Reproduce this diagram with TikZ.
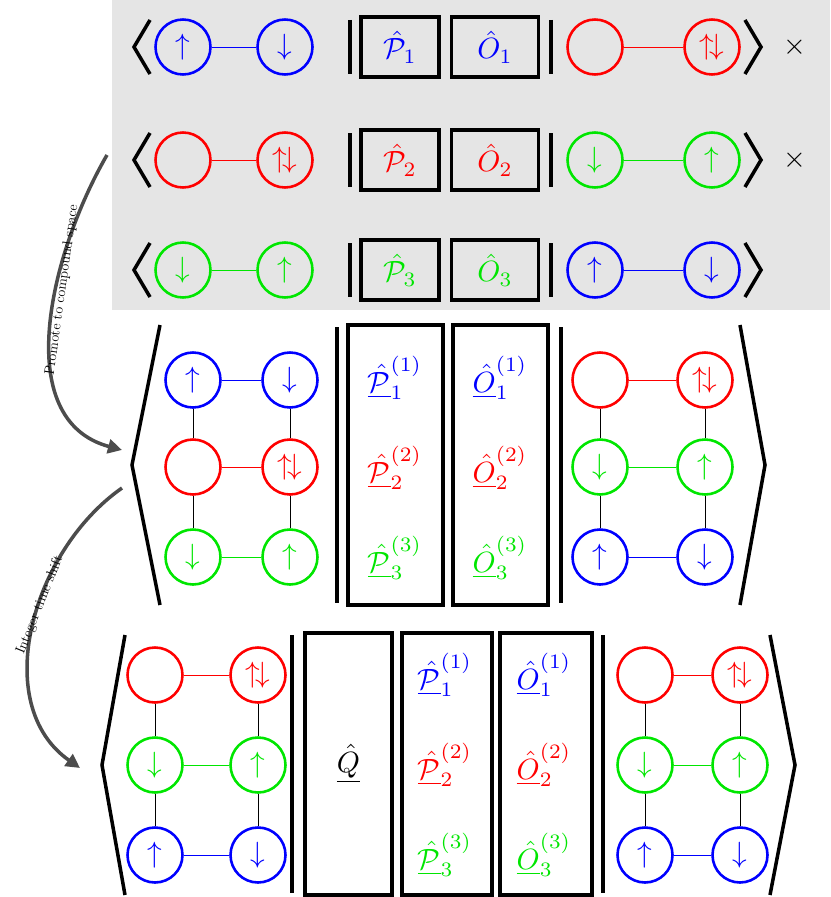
\documentclass[tikz,border=0pt]{standalone}
\usepackage{amsmath}
\usepackage{graphicx}
\usepackage{tikz}
\usetikzlibrary{arrows.meta}
\tikzset{
site/.style={circle, draw, line width=2.2pt, minimum size=1.65cm, inner sep=0pt},
opbox/.style={draw, line width=3pt, inner sep=0pt},
bar/.style={line width=3.5pt},
ket/.style={line width=3pt},
bond/.style={line width=0.8pt},
promote/.style={-{Triangle[length=12pt,width=12pt]}, gray!60!black, line width=3pt},
}
\newcommand{\op}[1]{\underline{\hat{#1}}}
\newcommand{\bg}[1]{\scalebox{2.5}{#1}}
\definecolor{sblue}{RGB}{0,0,255}
\definecolor{sred}{RGB}{255,0,0}
\definecolor{sgreen}{RGB}{0,230,0}
\begin{document}
\begin{tikzpicture}[x=0.03cm,y=-0.03cm]
\useasboundingbox (0,0) rectangle (830,897);
\fill[gray!20] (112,0) rectangle (830,310);
% top rows
\foreach \r/\y/\ca/\cb/\la/\lb/\lc/\ld/\cc/\n in {1/47/sblue/sred/$\uparrow$/$\downarrow$/{}/$\uparrow\!\downarrow$/sblue/1, 2/160/sred/sgreen/{}/$\uparrow\!\downarrow$/$\downarrow$/$\uparrow$/sred/2, 3/270/sgreen/sblue/$\downarrow$/$\uparrow$/$\uparrow$/$\downarrow$/sgreen/3}{
  \node[site, \ca] (a\r) at (183,\y) {\bg{\la}};
  \node[site, \ca] (b\r) at (285,\y) {\bg{\lb}};
  \node[site, \cb] (c\r) at (595,\y) {\bg{\lc}};
  \node[site, \cb] (d\r) at (712,\y) {\bg{\ld}};
  \draw[bond, \ca] (a\r) -- (b\r);
  \draw[bond, \cb] (c\r) -- (d\r);
  \node[opbox, minimum width=2.35cm, minimum height=1.8cm, text=\cc] (p\r) at (400,\y) {\bg{$\hat{\mathcal{P}}_{\n}$}};
  \node[opbox, minimum width=2.6cm, minimum height=1.8cm, text=\cc] (o\r) at (495,\y) {\bg{$\hat{O}_{\n}$}};
  \draw[bar] (350,\y-27) -- (350,\y+27);
  \draw[bar] (551,\y-27) -- (551,\y+27);
  \draw[ket] (150,\y-27) -- (134,\y) -- (150,\y+27);
  \draw[ket] (745,\y-27) -- (761,\y) -- (745,\y+27);
}
\node (x1) at (795,47) {\bg{$\times$}};
\node (x2) at (795,160) {\bg{$\times$}};
% compound space
\foreach \r/\y/\ca/\cb/\la/\lb/\lc/\ld in {1/380/sblue/sred/$\uparrow$/$\downarrow$/{}/$\uparrow\!\downarrow$, 2/467/sred/sgreen/{}/$\uparrow\!\downarrow$/$\downarrow$/$\uparrow$, 3/557/sgreen/sblue/$\downarrow$/$\uparrow$/$\uparrow$/$\downarrow$}{
  \node[site, \ca] (ma\r) at (193,\y) {\bg{\la}};
  \node[site, \ca] (mb\r) at (290,\y) {\bg{\lb}};
  \node[site, \cb] (mc\r) at (600,\y) {\bg{\lc}};
  \node[site, \cb] (md\r) at (705,\y) {\bg{\ld}};
  \draw[bond, \ca] (ma\r) -- (mb\r);
  \draw[bond, \cb] (mc\r) -- (md\r);
}
\foreach \c in {ma,mb,mc,md}{
  \draw[bond] (\c1) -- (\c2);
  \draw[bond] (\c2) -- (\c3);
}
\node[opbox, minimum width=2.85cm, minimum height=8.4cm] (mp) at (395.5,465) {};
\node[opbox, minimum width=2.85cm, minimum height=8.4cm] (mo) at (500.5,465) {};
\foreach \r/\y/\cc in {1/378/sblue, 2/468/sred, 3/558/sgreen}{
  \node[text=\cc] (mpl\r) at (395,\y) {\bg{$\op{\mathcal{P}}_{\r}^{(\r)}$}};
  \node[text=\cc] (mol\r) at (500,\y) {\bg{$\op{O}_{\r}^{(\r)}$}};
}
\draw[bar] (337,327) -- (337,603);
\draw[bar] (561,327) -- (561,603);
\draw[ket] (160,325) -- (132,465) -- (160,605);
\draw[ket] (740,325) -- (765,465) -- (740,605);
% time shifted
\foreach \r/\y/\ca/\la/\lb in {1/675/sred/{}/$\uparrow\!\downarrow$, 2/765/sgreen/$\downarrow$/$\uparrow$, 3/855/sblue/$\uparrow$/$\downarrow$}{
  \node[site, \ca] (ba\r) at (155,\y) {\bg{\la}};
  \node[site, \ca] (bb\r) at (258,\y) {\bg{\lb}};
  \node[site, \ca] (bc\r) at (645,\y) {\bg{\la}};
  \node[site, \ca] (bd\r) at (740,\y) {\bg{\lb}};
  \draw[bond, \ca] (ba\r) -- (bb\r);
  \draw[bond, \ca] (bc\r) -- (bd\r);
}
\foreach \c in {ba,bb,bc,bd}{
  \draw[bond] (\c1) -- (\c2);
  \draw[bond] (\c2) -- (\c3);
}
\node[opbox, minimum width=2.6cm, minimum height=7.85cm] (q) at (348.5,764) {\bg{$\op{Q}$}};
\node[opbox, minimum width=2.7cm, minimum height=7.85cm] (bp) at (447,764) {};
\node[opbox, minimum width=2.75cm, minimum height=7.85cm] (bo) at (546,764) {};
\foreach \r/\y/\cc in {1/675/sblue, 2/765/sred, 3/855/sgreen}{
  \node[text=\cc] (bpl\r) at (445,\y) {\bg{$\op{\mathcal{P}}_{\r}^{(\r)}$}};
  \node[text=\cc] (bol\r) at (544,\y) {\bg{$\op{O}_{\r}^{(\r)}$}};
}
\draw[bar] (292,635) -- (292,893);
\draw[bar] (603,635) -- (603,893);
\draw[ket] (125,635) -- (102,765) -- (125,895);
\draw[ket] (770,635) -- (795,765) -- (770,895);
% arrows between stages
\coordinate (s1) at (107,155);
\coordinate (e1) at (122,450);
\coordinate (s2) at (122,488);
\coordinate (e2) at (80,768);
\draw[promote] (s1) to[out=240, in=165] (e1);
\draw[promote] (s2) to[out=215, in=145] (e2);
\node[font=\large, rotate=82] (l1) at (62,290) {Promote to compound space};
\node[font=\large, rotate=68] (l2) at (40,605) {Integer time shift};
\end{tikzpicture}
\end{document}
